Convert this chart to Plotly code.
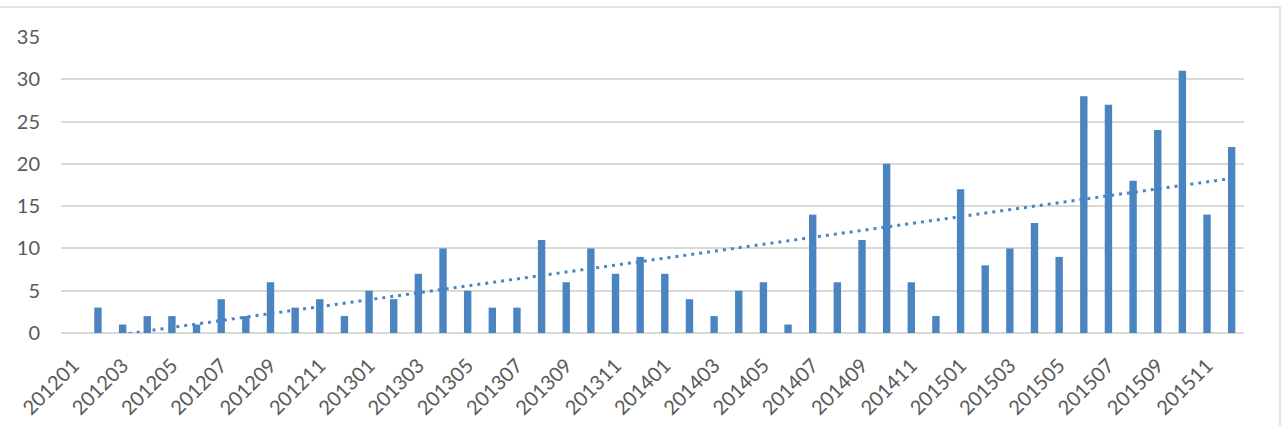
import numpy as np
import plotly.graph_objects as go

months = [
    "201201", "201202", "201203", "201204", "201205", "201206",
    "201207", "201208", "201209", "201210", "201211", "201212",
    "201301", "201302", "201303", "201304", "201305", "201306",
    "201307", "201308", "201309", "201310", "201311", "201312",
    "201401", "201402", "201403", "201404", "201405", "201406",
    "201407", "201408", "201409", "201410", "201411", "201412",
    "201501", "201502", "201503", "201504", "201505", "201506",
    "201507", "201508", "201509", "201510", "201511", "201512",
]
counts = [
    0, 3, 1, 2, 2, 1, 4, 2, 6, 3, 4, 2,
    5, 4, 7, 10, 5, 3, 3, 11, 6, 10, 7, 9,
    7, 4, 2, 5, 6, 1, 14, 6, 11, 20, 6, 2,
    17, 8, 10, 13, 9, 28, 27, 18, 24, 31, 14, 22,
]
tick_labels = months[::2]
y_ticks = [0, 5, 10, 15, 20, 25, 30, 35]

BLUE = "#4a85c1"
GRID = "#d9d9d9"
TXT = "#595959"
FONT = "Lato"

# linear trendline (as Excel's linear trendline)
xi = np.arange(len(counts))
slope, intercept = np.polyfit(xi, np.array(counts, dtype=float), 1)
trend = [intercept + slope * i for i in xi]

fig = go.Figure()
fig.add_trace(go.Bar(x=months, y=counts, marker=dict(color=BLUE, line=dict(width=0)),
                     showlegend=False))
fig.add_trace(go.Scatter(x=months, y=trend, mode="lines",
                         line=dict(color=BLUE, width=3, dash="3px,5px"),
                         showlegend=False))

fig.update_layout(
    width=1287, height=426,
    margin=dict(l=61, r=43, t=37, b=93),
    paper_bgcolor="white", plot_bgcolor="white",
    bargap=0.7,
    font=dict(family=FONT, size=20, color=TXT),
    xaxis=dict(
        type="category", range=[-0.5, len(months) - 0.5],
        tickmode="array", tickvals=tick_labels, ticktext=tick_labels,
        tickangle=-45, showgrid=False, showline=False, ticks="",
        tickfont=dict(family=FONT, size=20, color=TXT),
        ticklabelstandoff=16, fixedrange=True, automargin=False,
    ),
    yaxis=dict(
        range=[0, 35], tickmode="array", tickvals=y_ticks,
        showgrid=True, gridcolor=GRID, gridwidth=1.5,
        zeroline=True, zerolinecolor=GRID, zerolinewidth=1.5,
        showline=False, ticks="",
        tickfont=dict(family=FONT, size=20, color=TXT),
        ticklabelstandoff=20, fixedrange=True, automargin=False,
    ),
)

# outer chart border (partly cropped on left and bottom)
fig.add_shape(type="rect", xref="paper", yref="paper",
              x0=(-10 - 61) / 1183, x1=(1280 - 61) / 1183,
              y0=(333 - 440) / 296, y1=(333 - 7) / 296,
              line=dict(color=GRID, width=1.5), fillcolor="rgba(0,0,0,0)",
              layer="below")

fig.write_html("out.html")
